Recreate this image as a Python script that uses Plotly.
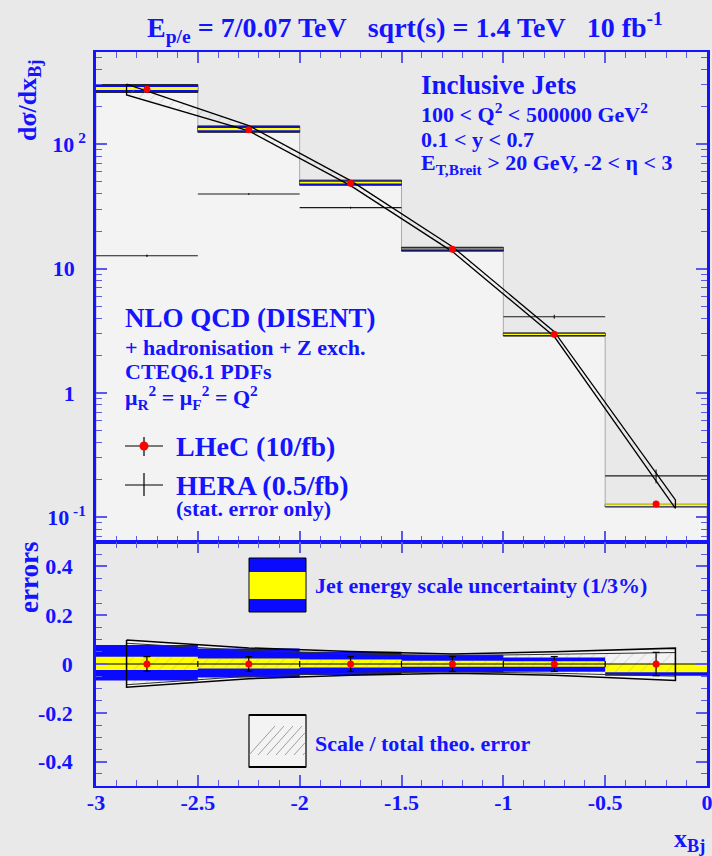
import plotly.graph_objects as go

# ---------------- data ----------------
# bins in log10(x_Bj)
bin_edges = [-3.0, -2.5, -2.0, -1.5, -1.0, -0.5, 0.0]
bin_centers = [-2.75, -2.25, -1.75, -1.25, -0.75, -0.25]

# NLO QCD (DISENT) prediction per bin, and the LHeC pseudo-data
nlo_xsec = [280.0, 132.0, 49.0, 14.3, 2.96, 0.127]
lhec_xsec = [277.0, 131.0, 48.5, 14.3, 2.97, 0.128]
lhec_rel_err = [0.030, 0.030, 0.030, 0.030, 0.030, 0.048]

# HERA (0.5/fb), statistical errors only
hera_xsec = [12.7, 39.8, 30.9, 14.1, 4.10, 0.215]
hera_err = [0.3, 0.6, 0.5, 0.3, 0.15, 0.027]

# relative jet energy scale uncertainty: 3% (outer) and 1% (inner)
jes3_up = [0.078, 0.064, 0.050, 0.038, 0.027, 0.0]
jes3_dn = [-0.068, -0.055, -0.045, -0.034, -0.032, -0.048]
jes1_up = [0.030, 0.023, 0.018, 0.013, 0.011, 0.0]
jes1_dn = [-0.025, -0.018, -0.014, -0.011, -0.011, -0.034]

# theory band nodes
theo_x = [-2.85, -2.25, -1.75, -1.25, -0.75, -0.155]
theo_hi = [304.0, 141.0, 51.0, 15.0, 3.11, 0.138]
theo_lo = [249.0, 128.0, 46.5, 13.7, 2.84, 0.118]
# relative theory uncertainties: total and scale part
tot_up = [0.098, 0.066, 0.051, 0.041, 0.050, 0.065]
tot_dn = [-0.095, -0.060, -0.046, -0.038, -0.046, -0.068]
scale_up = [0.085, 0.055, 0.042, 0.034, 0.040, 0.047]
scale_dn = [-0.085, -0.050, -0.038, -0.032, -0.038, -0.050]

# ---------------- style ----------------
BLUE = "#1414ff"
TICK = "#5a5ae6"
BAND_BLUE = "#0a0aff"
YELLOW = "#ffff00"
BG = "#e9e9e9"
HISTFILL = "#f3f3f3"
SERIF = "Liberation Serif"

W, H = 712, 856
PL, PR, PT, PB = 96, 707, 52, 786
SPLIT = 542
split_frac = (PB - SPLIT) / (PB - PT)


def px(x):
    return (x - PL) / (PR - PL)


def py(y):
    return (PB - y) / (PB - PT)


def boxes(lo, hi, xmin=None, xmax=None):
    xs, ys = [], []
    for i in range(len(lo)):
        a, b = bin_edges[i], bin_edges[i + 1]
        if xmin is not None:
            a = max(a, xmin)
        if xmax is not None:
            b = min(b, xmax)
        xs += [a, b, b, a, a, None]
        ys += [lo[i], lo[i], hi[i], hi[i], lo[i], None]
    return xs, ys


def band(xn, upper, lower):
    return list(xn) + list(xn[::-1]) + [xn[0]], list(upper) + list(lower[::-1]) + [upper[0]]


HATCH = dict(shape="/", fgcolor="#9a9a9a", bgcolor="rgba(0,0,0,0)", size=9, solidity=0.09)
NOFILL = "rgba(0,0,0,0)"

fig = go.Figure()

# ---------- top panel ----------
# step histogram of the NLO prediction (light fill under the steps)
floor = 1e-3
hx, hy = [bin_edges[0]], [floor]
for i, v in enumerate(nlo_xsec):
    hx += [bin_edges[i], bin_edges[i + 1]]
    hy += [v, v]
hx += [bin_edges[-1]]
hy += [floor]
fig.add_trace(go.Scatter(x=hx, y=hy, mode="lines", fill="toself", fillcolor=HISTFILL,
                         line=dict(color="#a9a9b4", width=1), xaxis="x", yaxis="y",
                         hoverinfo="skip"))

# JES uncertainty boxes around the prediction
bx, by = boxes([v * (1 + d) for v, d in zip(nlo_xsec, jes3_dn)],
               [v * (1 + u) for v, u in zip(nlo_xsec, jes3_up)])
fig.add_trace(go.Scatter(x=bx, y=by, mode="lines", fill="toself", fillcolor=BAND_BLUE,
                         line=dict(color="#202020", width=1), xaxis="x", yaxis="y",
                         hoverinfo="skip"))
bx, by = boxes([v * (1 + d) for v, d in zip(nlo_xsec, jes1_dn)],
               [v * (1 + u) for v, u in zip(nlo_xsec, jes1_up)])
fig.add_trace(go.Scatter(x=bx, y=by, mode="lines", fill="toself", fillcolor=YELLOW,
                         line=dict(width=0), xaxis="x", yaxis="y", hoverinfo="skip"))

# HERA measurement
fig.add_trace(go.Scatter(
    x=bin_centers, y=hera_xsec, mode="markers", xaxis="x", yaxis="y",
    marker=dict(size=1, color="black"),
    error_x=dict(type="data", array=[(bin_edges[i + 1] - bin_edges[i]) / 2 for i in range(6)],
                 color="#1a1a1a", thickness=1.1, width=0),
    error_y=dict(type="data", array=hera_err, color="#1a1a1a", thickness=1.1, width=0),
    hoverinfo="skip"))

# theory band (hatched)
tx, ty = band(theo_x, theo_hi, theo_lo)
fig.add_trace(go.Scatter(x=tx, y=ty, mode="lines", fill="toself", fillcolor=NOFILL,
                         fillpattern=HATCH,
                         line=dict(color="black", width=1.3), xaxis="x", yaxis="y",
                         hoverinfo="skip"))

# LHeC pseudo-data
fig.add_trace(go.Scatter(
    x=bin_centers, y=lhec_xsec, mode="markers", xaxis="x", yaxis="y",
    marker=dict(size=7, color="#ff0000"), hoverinfo="skip"))

# ---------- lower panel ----------
ox, oy = band(theo_x, tot_up, tot_dn)
sx, sy = band(theo_x, scale_up, scale_dn)
fig.add_trace(go.Scatter(x=ox, y=oy, mode="lines", fill="toself", fillcolor="#f3f3f3",
                         line=dict(width=0), xaxis="x2", yaxis="y2", hoverinfo="skip"))
fig.add_trace(go.Scatter(x=sx, y=sy, mode="lines", fill="toself", fillcolor=NOFILL,
                         fillpattern=HATCH, line=dict(width=0), xaxis="x2", yaxis="y2",
                         hoverinfo="skip"))

bx, by = boxes(jes3_dn, jes3_up)
fig.add_trace(go.Scatter(x=bx, y=by, mode="lines", fill="toself", fillcolor=BAND_BLUE,
                         line=dict(width=0), xaxis="x2", yaxis="y2", hoverinfo="skip"))
bx, by = boxes(jes1_dn, jes1_up)
fig.add_trace(go.Scatter(x=bx, y=by, mode="lines", fill="toself", fillcolor=YELLOW,
                         line=dict(width=0), xaxis="x2", yaxis="y2", hoverinfo="skip"))
# scale hatching seen through the 1% band
bx, by = boxes(jes1_dn, jes1_up, xmin=theo_x[0], xmax=theo_x[-1])
fig.add_trace(go.Scatter(x=bx, y=by, mode="lines", fill="toself", fillcolor=NOFILL,
                         fillpattern=HATCH, line=dict(width=0), xaxis="x2", yaxis="y2",
                         hoverinfo="skip"))

fig.add_trace(go.Scatter(x=sx, y=sy, mode="lines", line=dict(color="#303030", width=1),
                         xaxis="x2", yaxis="y2", hoverinfo="skip"))
fig.add_trace(go.Scatter(x=ox, y=oy, mode="lines", line=dict(color="black", width=1.5),
                         xaxis="x2", yaxis="y2", hoverinfo="skip"))

# zero line with small marks at the bin edges
zx, zy = [bin_edges[0], bin_edges[-1], None], [0, 0, None]
for e in bin_edges[1:-1]:
    zx += [e, e, None]
    zy += [-0.012, 0.012, None]
fig.add_trace(go.Scatter(x=zx, y=zy, mode="lines", line=dict(color="black", width=1.2),
                         xaxis="x2", yaxis="y2", hoverinfo="skip"))

fig.add_trace(go.Scatter(
    x=bin_centers, y=[0] * len(bin_centers), mode="markers", xaxis="x2", yaxis="y2",
    marker=dict(size=7, color="#ff0000"),
    error_y=dict(type="data", array=lhec_rel_err, color="black", thickness=1.2, width=3.5),
    hoverinfo="skip"))

# ---------------- axes ----------------
tickfont = dict(family=SERIF, size=22, color=BLUE, weight="bold")
xcommon = dict(range=[-3, 0], showgrid=False, zeroline=False, showline=True, automargin=False,
               linecolor=BLUE, linewidth=2, mirror="allticks", ticks="inside",
               tickmode="array", tickvals=[-3, -2.5, -2, -1.5, -1, -0.5, 0],
               ticklen=11, tickwidth=1.5, tickcolor=TICK, ticklabeloverflow="allow",
               minor=dict(ticks="inside", tickmode="linear", tick0=-3, dtick=0.1,
                          ticklen=6, tickwidth=1.2, tickcolor=TICK, showgrid=False))

minor_log = [m * 10 ** k for k in (-2, -1, 0, 1, 2) for m in range(2, 10)]

fig.update_layout(
    width=W, height=H,
    margin=dict(l=PL, r=W - PR, t=PT, b=H - PB, autoexpand=False),
    paper_bgcolor=BG, plot_bgcolor=BG, showlegend=False,
    xaxis=dict(xcommon, domain=[0, 1], anchor="y", showticklabels=False),
    yaxis=dict(type="log", domain=[split_frac, 1], anchor="x", range=[-1.199, 2.742],
               automargin=False, ticklabeloverflow="allow",
               showgrid=False, zeroline=False, showline=True, linecolor=BLUE, linewidth=2.5,
               mirror="allticks", ticks="inside", ticklen=11, tickwidth=1.5, tickcolor=TICK,
               tickmode="array", tickvals=[0.1, 1, 10, 100],
               ticktext=["10<sup> -1</sup>", "1\u2002", "10\u2002", "10<sup> 2</sup>"],
               tickfont=tickfont, ticklabelstandoff=3,
               minor=dict(ticks="inside", tickmode="array", tickvals=minor_log, ticklen=6,
                          tickwidth=1.2, tickcolor=TICK, showgrid=False)),
    xaxis2=dict(xcommon, domain=[0, 1], anchor="y2", showticklabels=True,
                tickfont=tickfont, ticklabelstandoff=-4,
                ticktext=["-3", "-2.5", "-2", "-1.5", "-1", "-0.5", "0"]),
    yaxis2=dict(domain=[0, split_frac], anchor="x2", range=[-0.5, 0.5], automargin=False,
                ticklabeloverflow="allow",
                showgrid=False, zeroline=False, showline=True, linecolor=BLUE, linewidth=2.5,
                mirror="allticks", ticks="inside", ticklen=11, tickwidth=1.5, tickcolor=TICK,
                tickmode="array", tickvals=[-0.4, -0.2, 0, 0.2, 0.4],
                ticktext=["-0.4", "-0.2", "0", "0.2", "0.4"],
                tickfont=tickfont, ticklabelstandoff=16,
                minor=dict(ticks="inside", tickmode="linear", tick0=-0.5, dtick=0.05,
                           ticklen=6, tickwidth=1.2, tickcolor=TICK, showgrid=False)),
)


# ---------------- text ----------------
def label(text, x, y, size, xanchor="left", angle=0):
    fig.add_annotation(text=text, x=px(x), y=py(y), xref="paper", yref="paper",
                       showarrow=False, xanchor=xanchor, yanchor="middle", textangle=angle,
                       font=dict(family=SERIF, size=size, color=BLUE, weight="bold"))


NB = "\u00a0"
label(f"E<sub>p/e</sub> = 7/0.07 TeV{NB*3}sqrt(s) = 1.4 TeV{NB*3}10 fb<sup>-1</sup>",
      405, 28, 28, xanchor="center")
label("dσ/dx<sub>Bj</sub>", 29, 101, 26, xanchor="center", angle=-90)
label("errors", 29, 578, 27, xanchor="center", angle=-90)
label("x<sub>Bj</sub>", 707, 840, 26, xanchor="right")

label("Inclusive Jets", 419, 85, 27)
label("100 &lt; Q<sup>2</sup> &lt; 500000 GeV<sup>2</sup>", 419, 113, 22)
label("0.1 &lt; y &lt; 0.7", 419, 139, 22)
label("E<sub>T,Breit</sub> &gt; 20 GeV, -2 &lt; η &lt; 3", 419, 164, 22)

label("NLO QCD (DISENT)", 123, 318, 27)
label("+ hadronisation + Z exch.", 123, 347, 22)
label("CTEQ6.1 PDFs", 123, 371, 22)
label("μ<sub>R</sub><sup>2</sup> = μ<sub>F</sub><sup>2</sup> = Q<sup>2</sup>", 123, 397, 22)

label("LHeC (10/fb)", 174, 446, 28)
label("HERA (0.5/fb)", 174, 485, 28)
label("(stat. error only)", 174, 509, 22)

label("Jet energy scale uncertainty (1/3%)", 313, 585, 22)
label("Scale / total theo. error", 313, 743, 22)


# ---------------- legend glyphs ----------------
def pline(x0, y0, x1, y1, color="black", width=1.2):
    fig.add_shape(type="line", xref="paper", yref="paper", x0=px(x0), y0=py(y0),
                  x1=px(x1), y1=py(y1), line=dict(color=color, width=width))


def prect(x0, y0, x1, y1, fill, line_color="black", width=1):
    fig.add_shape(type="rect", xref="paper", yref="paper", x0=px(x0), y0=py(y0),
                  x1=px(x1), y1=py(y1), fillcolor=fill,
                  line=dict(color=line_color, width=width))


# LHeC glyph
pline(125, 446, 163, 446)
pline(144, 437, 144, 456)
fig.add_shape(type="circle", xref="paper", yref="paper", x0=px(139.5), y0=py(441.5),
              x1=px(148.5), y1=py(450.5), fillcolor="#ff0000", line=dict(width=0))
# HERA glyph
pline(125, 485, 163, 485)
pline(144, 473, 144, 496)

# JES box
prect(249, 558, 306, 612, BAND_BLUE, width=1)
prect(249.5, 572, 305.5, 599, YELLOW, line_color=YELLOW, width=0)
# scale / total box
prect(249, 715, 306, 767, "#f3f3f3", width=1.2)
pline(249, 715, 306, 715, width=2.2)
pline(249, 767, 306, 767, width=2.2)
for k in range(7):
    xs = 249 + k * 9
    pline(xs, 755, min(xs + 26, 305), 755 - (min(xs + 26, 305) - xs) * 29 / 26,
          color="#888888", width=0.8)

fig.write_html("out.html")
